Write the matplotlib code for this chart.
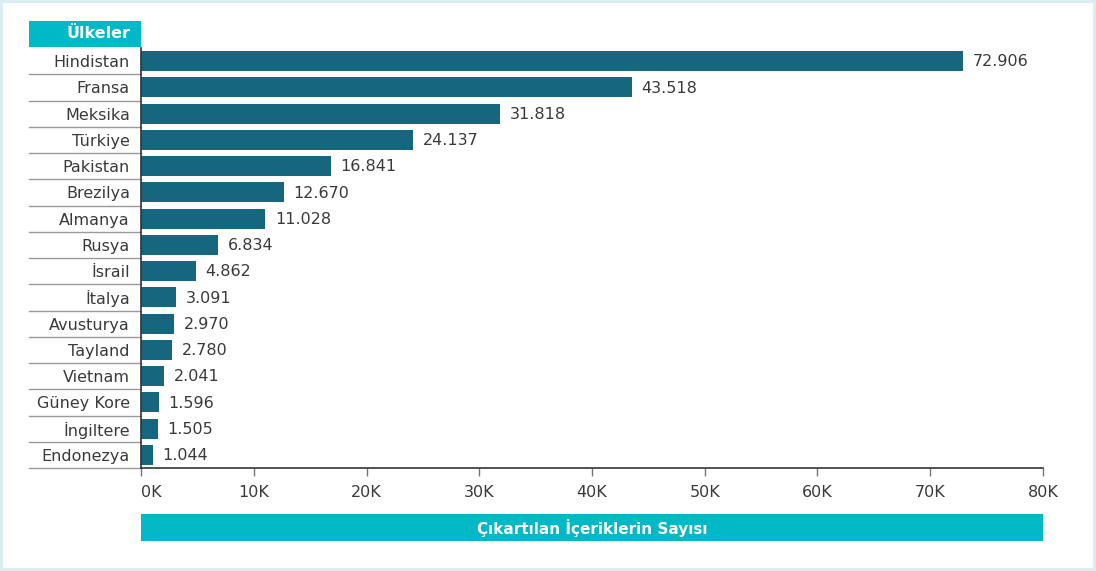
import matplotlib
matplotlib.use("Agg")
import matplotlib.pyplot as plt
from matplotlib.patches import Rectangle
from matplotlib.ticker import FuncFormatter
import matplotlib.transforms as mtrans

plt.rcParams['font.family'] = ['DejaVu Sans']

ulkeler = ["Hindistan", "Fransa", "Meksika", "Türkiye", "Pakistan", "Brezilya",
           "Almanya", "Rusya", "İsrail", "İtalya", "Avusturya", "Tayland",
           "Vietnam", "Güney Kore", "İngiltere", "Endonezya"]
sayilar = [72906, 43518, 31818, 24137, 16841, 12670, 11028, 6834, 4862,
           3091, 2970, 2780, 2041, 1596, 1505, 1044]
xticks = [0, 10000, 20000, 30000, 40000, 50000, 60000, 70000, 80000]

W, H = 1096, 571
bar_color = "#17667f"
cyan = "#00b8c6"
text_color = "#3a3a3a"
fs = 11.5


def fx(x):
    return x / W


def fy(y):
    return 1 - y / H


fig = plt.figure(figsize=(W / 100, H / 100), dpi=100)
fig.patch.set_facecolor("#d8eef3")
fig.add_artist(Rectangle((fx(3), fy(568)), fx(1090), (565) / H,
                         transform=fig.transFigure, facecolor="white",
                         edgecolor="none", zorder=0))

ax = fig.add_axes([fx(141), fy(468), fx(1043) - fx(141), (468 - 48) / H])
ax.set_facecolor("none")

pos = list(range(len(ulkeler)))
ax.barh(pos, sayilar, height=0.76, color=bar_color, zorder=2)
for p, v in zip(pos, sayilar):
    ax.text(v + 850, p + 0.03, f"{v:,}".replace(",", "."), va="center",
            ha="left", fontsize=fs, color=text_color)

ax.set_xlim(0, 80000)
ax.set_ylim(len(ulkeler) - 0.5, -0.5)
ax.set_xticks(xticks)
ax.xaxis.set_major_formatter(FuncFormatter(lambda v, _: f"{int(v / 1000)}K"))
ax.set_yticks(pos)
ax.set_yticklabels(ulkeler)
ax.tick_params(axis="y", length=0, pad=8, labelsize=fs, labelcolor=text_color)
ax.tick_params(axis="x", length=6, width=1, color="#777777", pad=6,
               labelsize=fs, labelcolor=text_color)
# the first tick label sits a little to the right of its tick
ax.get_xticklabels()[0].set_horizontalalignment("left")

for s in ["top", "right"]:
    ax.spines[s].set_visible(False)
ax.spines["left"].set_color("#333333")
ax.spines["bottom"].set_color("#333333")
ax.spines["left"].set_linewidth(1.2)
ax.spines["bottom"].set_linewidth(1.2)

# separator lines under the country names
trans = mtrans.blended_transform_factory(ax.transAxes, ax.transData)
x0 = (29 - 141) / (1043 - 141)
for i in range(len(ulkeler)):
    ax.plot([x0, 0], [i + 0.5, i + 0.5], transform=trans, color="#9a9a9a",
            lw=1, clip_on=False)

# header box
fig.add_artist(Rectangle((fx(29), fy(47)), fx(141) - fx(29), 26 / H,
                         transform=fig.transFigure, facecolor=cyan,
                         edgecolor="none"))
fig.text(fx(131), fy(34), "Ülkeler", ha="right", va="center", color="white",
         fontsize=11.5, fontweight="bold")

# axis title box
fig.add_artist(Rectangle((fx(141), fy(541)), fx(1043) - fx(141), 27 / H,
                         transform=fig.transFigure, facecolor=cyan,
                         edgecolor="none"))
fig.text((fx(141) + fx(1043)) / 2, fy(528), "Çıkartılan İçeriklerin Sayısı",
         ha="center", va="center", color="white", fontsize=11, fontweight="bold")

fig.savefig("out.png", dpi=100)
